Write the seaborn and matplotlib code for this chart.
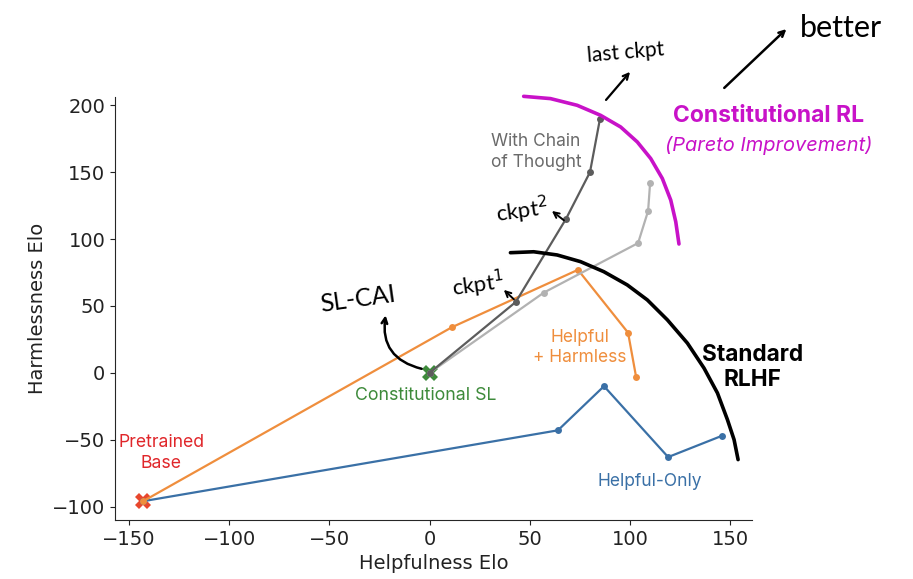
import pandas as pd
import seaborn as sns
import matplotlib.pyplot as plt

# Points (Helpfulness Elo, Harmlessness Elo)
base_pt = (-143, -96)
sl_pt = (0, 0)

helpful_only_x = [-143, 64, 87, 119, 146]
helpful_only_y = [-96, -43, -10, -63, -47]

hh_x = [-143, 11, 74, 99, 103]
hh_y = [-96, 34, 77, 30, -3]

cot_x = [0, 43, 68, 80, 85]
cot_y = [0, 53, 115, 150, 190]

rl_x = [0, 57, 104, 109, 110]
rl_y = [0, 60, 97, 121, 142]

# hand-drawn frontier curves
pareto_x = [46.9, 60.3, 73.6, 85.3, 95.3, 103.6, 110.3, 116.1, 120.3, 122.8, 124.4]
pareto_y = [206.7, 205.0, 200.0, 192.5, 183.8, 172.6, 160.2, 145.3, 129.1, 112.9, 96.3]

rlhf_x = [40.3, 51.9, 63.6, 75.3, 86.9, 98.6, 108.6, 118.6, 128.6, 136.9, 143.6, 148.6, 151.9, 153.9]
rlhf_y = [89.8, 90.5, 88.1, 83.1, 75.6, 65.7, 54.5, 39.6, 22.2, 3.5, -15.1, -35.1, -50.0, -64.9]

blue = '#3a70a6'
orange = '#ef8e3d'
dark_gray = '#5c5c5c'
light_gray = '#b2b2b2'
magenta = '#c812c8'

sns.set_style('ticks')
fig = plt.figure(figsize=(9.13, 5.79), dpi=100)
ax = fig.add_axes([0.126, 0.102, 0.698, 0.73])

# start markers
ax.plot(*base_pt, marker='X', markersize=12, color='#e8472d', markeredgewidth=0, zorder=2)
ax.plot(*sl_pt, marker='X', markersize=12, color='#3d8a3a', markeredgewidth=0, zorder=2)

series = [
    (helpful_only_x, helpful_only_y, blue),
    (hh_x, hh_y, orange),
    (rl_x, rl_y, light_gray),
    (cot_x, cot_y, dark_gray),
]
for xs, ys, c in series:
    df = pd.DataFrame({'x': xs, 'y': ys})
    sns.lineplot(data=df, x='x', y='y', sort=False, estimator=None, color=c,
                 marker='o', markersize=5, markeredgewidth=0, linewidth=1.6, ax=ax, zorder=3)

# frontier curves
for xs, ys, c in [(pareto_x, pareto_y, magenta), (rlhf_x, rlhf_y, 'black')]:
    sns.lineplot(x=xs, y=ys, sort=False, estimator=None, color=c,
                 linewidth=2.6, ax=ax, zorder=4, clip_on=False)

ax.set_xlim(-157, 161)
ax.set_ylim(-110, 206)
ax.set_xticks([-150, -100, -50, 0, 50, 100, 150])
ax.set_yticks([-100, -50, 0, 50, 100, 150, 200])
ax.tick_params(labelsize=14, colors='#222222')
ax.set_xlabel('Helpfulness Elo', fontsize=14, color='#222222')
ax.set_ylabel('Harmlessness Elo', fontsize=14, color='#222222')
sns.despine(ax=ax)

lab = dict(family='Inter', ha='center', va='center', clip_on=False)
ax.text(53, 165, 'With Chain\nof Thought', color='#6a6a6a', fontsize=12.5, linespacing=1.25, **lab)
ax.text(169, 192, 'Constitutional RL', color=magenta, fontsize=16.5, fontweight='bold', **lab)
ax.text(169, 170, '(Pareto Improvement)', color=magenta, fontsize=14.4, style='italic', **lab)
ax.text(75, 19, 'Helpful\n+ Harmless', color=orange, fontsize=12.5, linespacing=1.25, **lab)
ax.text(161, 4, 'Standard\nRLHF', color='black', fontsize=16.3, fontweight='bold', linespacing=1.2, **lab)
ax.text(110, -81, 'Helpful-Only', color=blue, fontsize=12.5, **lab)
ax.text(-2, -17, 'Constitutional SL', color='#3d8a3a', fontsize=12.8, **lab)
ax.text(-134, -60, 'Pretrained\nBase', color='#e0262a', fontsize=12.7, linespacing=1.25, **lab)

# hand-written notes
def arrow(tip, tail, lw=1.6, rad=0.0):
    ax.annotate('', xy=tip, xytext=tail, annotation_clip=False,
                arrowprops=dict(arrowstyle='->', lw=lw, color='black', shrinkA=0, shrinkB=0,
                                connectionstyle=f'arc3,rad={rad}'))

hand = dict(family='Lato', color='black', ha='center', va='center', clip_on=False)
arrow((178, 257), (147, 213), lw=1.8)
ax.text(205, 258, 'better', fontsize=22, **hand)

arrow((100, 225), (88, 204))
ax.text(98, 239, 'last ckpt', fontsize=15, rotation=5, **hand)

arrow((-22, 43), (-4, 3), lw=1.8, rad=-0.45)
ax.text(-36, 55, 'SL-CAI', fontsize=18, rotation=8, **hand)

arrow((37, 62), (42, 55), lw=1.4)
ax.text(24, 66, 'ckpt$^1$', fontsize=16, rotation=8, **hand)

arrow((61, 121), (67, 114), lw=1.4)
ax.text(46, 121, 'ckpt$^2$', fontsize=16, rotation=8, **hand)

fig.savefig('out.png', dpi=100)
